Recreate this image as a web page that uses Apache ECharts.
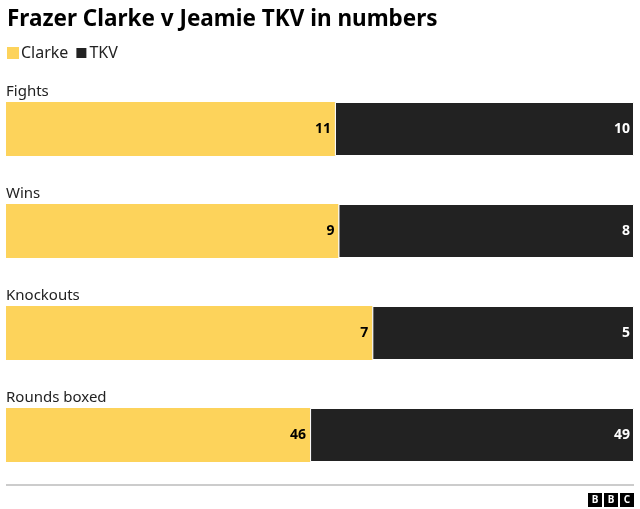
<!DOCTYPE html>
<html><head><meta charset="utf-8">
<script src="https://cdn.jsdelivr.net/npm/echarts@6/dist/echarts.min.js"></script>
<style>body{margin:0;background:#fff}#main{width:640px;height:509px}</style>
</head><body><div id="main"></div>
<script>
var categories = ['Fights', 'Wins', 'Knockouts', 'Rounds boxed'];
var clarke = [11, 9, 7, 46];
var tkv = [10, 8, 5, 49];

var total = categories.map(function (c, i) { return clarke[i] + tkv[i]; });
var font = 'Noto Sans';
var chart = echarts.init(document.getElementById('main'));

function labelOf(arr, color) {
  return {
    show: true, position: 'insideRight', distance: 4,
    color: color, fontWeight: 'bold', fontSize: 14, fontFamily: font,
    formatter: function (p) { return arr[p.dataIndex]; }
  };
}

chart.setOption({
  animation: false,
  title: {
    text: 'Frazer Clarke v Jeamie TKV in numbers',
    left: 2, top: 3,
    textStyle: { fontSize: 22.5, fontWeight: 'bold', color: '#000', fontFamily: font }
  },
  legend: {
    left: 2, top: 40, itemWidth: 12, itemHeight: 12, itemGap: 6,
    icon: 'rect',
    textStyle: { fontSize: 16, color: '#222', fontFamily: font, padding: [0, 0, 0, -3] },
    data: ['Clarke', 'TKV']
  },
  grid: { left: 6, right: 6, top: 78, height: 408 },
  xAxis: { type: 'value', min: 0, max: 1, show: false },
  yAxis: {
    type: 'category', inverse: true, data: categories,
    axisLine: { show: false }, axisTick: { show: false },
    axisLabel: {
      inside: true, margin: 0, align: 'left', verticalAlign: 'bottom',
      padding: [0, 0, 30, 0], color: '#222', fontSize: 15, fontFamily: font
    }
  },
  series: [
    {
      name: 'Clarke', type: 'bar', stack: 's', barWidth: 54,
      itemStyle: { color: '#fdd35b' },
      label: labelOf(clarke, '#000'),
      data: clarke.map(function (v, i) { return v / total[i]; })
    },
    {
      name: 'TKV', type: 'bar', stack: 's', barWidth: 54,
      itemStyle: { color: '#222222', borderColor: '#fff', borderWidth: 1 },
      label: labelOf(tkv, '#fff'),
      data: tkv.map(function (v, i) { return v / total[i]; })
    }
  ],
  graphic: [
    { type: 'line', shape: { x1: 6, y1: 485, x2: 634, y2: 485 }, style: { stroke: '#999', lineWidth: 1 } },
    { type: 'group', right: 6, top: 493, children: ['B', 'B', 'C'].map(function (t, i) {
      return { type: 'group', x: i * 16, children: [
        { type: 'rect', shape: { x: 0, y: 0, width: 14, height: 14 }, style: { fill: '#000' } },
        { type: 'text', x: 7, y: 7, style: { text: t, fill: '#fff', font: 'bold 10px Noto Sans', align: 'center', verticalAlign: 'middle' } }
      ] };
    }) }
  ]
});
</script></body></html>
